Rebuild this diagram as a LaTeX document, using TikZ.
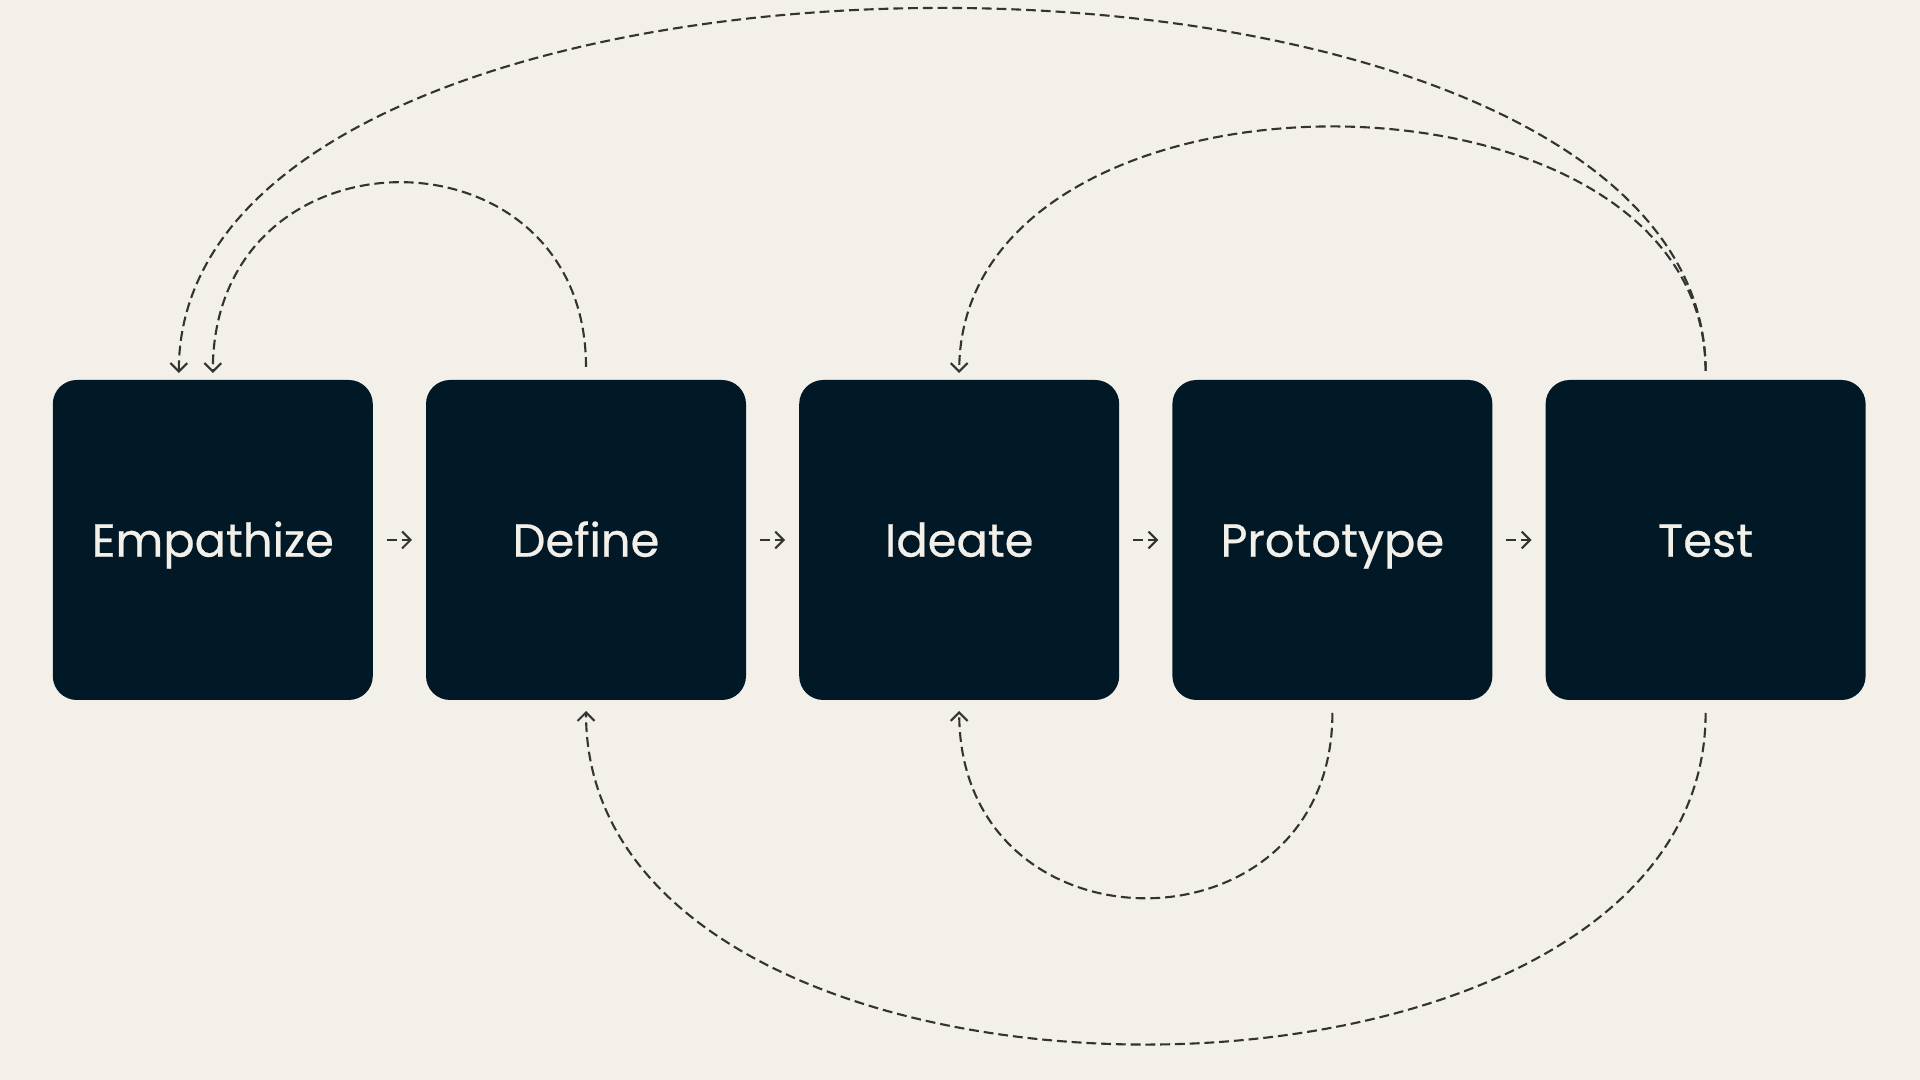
\documentclass[tikz,border=0pt]{standalone}
\usepackage{fontspec}
\setmainfont{Poppins}
\newfontfamily\stagefont{Poppins}[FakeBold=0.5]
\usepackage{tikz}
\usetikzlibrary{positioning,arrows.meta}

\definecolor{paper}{HTML}{F3F0EA}
\definecolor{ink}{HTML}{011826}
\definecolor{wire}{HTML}{333333}

\begin{document}
\begin{tikzpicture}[
		stage/.style={fill=ink, rounded corners=0.24cm, minimum width=3.2cm, minimum height=3.2cm, outer sep=0pt,
			text=paper, font=\stagefont\fontsize{13.2}{16}\selectfont, text height=9.5pt, text depth=0pt, inner sep=0pt},
		flow/.style={wire, line width=0.6pt, dash pattern=on 2.8pt off 1.4pt,
			-{Straight Barb[length=2.4pt,width=4.8pt]}},
		node distance=0.532cm
	]
		% Background.
		\useasboundingbox (0,0) rectangle (19.2,10.8);
		\fill[paper] (0,0) rectangle (19.2,10.8);

		% Stages.
		\node[stage] (empathize) at (2.128,5.4) {Empathize};
		\node[stage, right=of empathize] (define) {Define};
		\node[stage, right=of define] (ideate) {Ideate};
		\node[stage, right=of ideate] (prototype) {Prototype};
		\node[stage, right=of prototype] (test) {Test};

		% Forward steps.
		\draw[flow, shorten <=0.14cm, shorten >=0.14cm] (empathize.east) -- (define.west);
		\draw[flow, shorten <=0.14cm, shorten >=0.14cm] (define.east) -- (ideate.west);
		\draw[flow, shorten <=0.14cm, shorten >=0.14cm] (ideate.east) -- (prototype.west);
		\draw[flow, shorten <=0.14cm, shorten >=0.14cm] (prototype.east) -- (test.west);

		% Loops back over the top.
		\draw[flow] ([yshift=1.3mm]define.north) .. controls +(0,2.47) and +(0,2.53) .. ([yshift=0.7mm]empathize.north);
		\draw[flow] ([yshift=0.9mm]test.north) .. controls +(0,4.84) and +(0,4.86) .. ([xshift=-3.4mm,yshift=0.7mm]empathize.north);
		\draw[flow] ([yshift=0.9mm]test.north) .. controls +(0,3.26) and +(0,3.28) .. ([yshift=0.7mm]ideate.north);

		% Loops back underneath.
		\draw[flow] ([yshift=-1.3mm]prototype.south) .. controls +(0,-2.47) and +(0,-2.49) .. ([yshift=-1.1mm]ideate.south);
		\draw[flow] ([yshift=-1.3mm]test.south) .. controls +(0,-4.42) and +(0,-4.44) .. ([yshift=-1.1mm]define.south);

	\end{tikzpicture}
\end{document}
